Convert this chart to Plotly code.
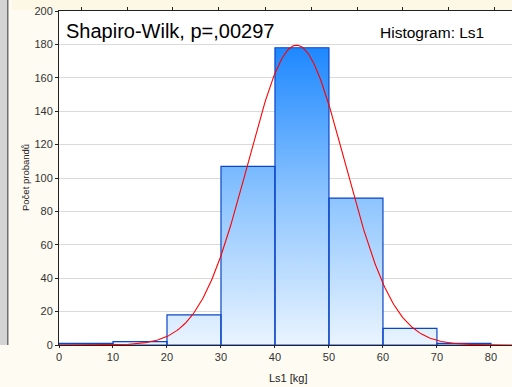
import plotly.graph_objects as go
import numpy as np

# ---- data ----
bin_edges = [0, 10, 20, 30, 40, 50, 60, 70, 80]
counts = [1, 2, 18, 107, 178, 88, 10, 1]
fit_mean = 44.0
fit_sd = 9.0
x_ticks = [0, 10, 20, 30, 40, 50, 60, 70, 80]
y_ticks = [0, 20, 40, 60, 80, 100, 120, 140, 160, 180, 200]
top_ticks = [4.1, 12.6, 21.1, 29.6, 38.2, 46.7, 55.2, 63.7, 72.2, 80.7]
title_text = "Shapiro-Wilk, p=,00297"
hist_text = "Histogram: Ls1"
x_title = "Ls1 [kg]"
y_title = "Počet probandů"

W, H = 512, 387
L, R, T, B = 59, 0, 11, 42
x_max = 83.9
FONT = "Liberation Sans, Arial, sans-serif"

pw = W - L - R
ph = H - T - B
def px(xp):
    return (xp - L) / pw
def py(yp):
    return (H - B - yp) / ph

# bar polygons built from bin data
bx, by = [], []
for i, c in enumerate(counts):
    l, r = bin_edges[i], bin_edges[i + 1]
    bx += [l, l, r, r, l, None]
    by += [0, c, c, 0, 0, None]

n_total = sum(counts)
bw = bin_edges[1] - bin_edges[0]
xc = np.linspace(0, x_max, 400)
yc = n_total * bw / (fit_sd * np.sqrt(2 * np.pi)) * np.exp(-0.5 * ((xc - fit_mean) / fit_sd) ** 2)

fig = go.Figure()
fig.add_trace(go.Scatter(
    x=bx, y=by, mode="lines", fill="toself",
    line=dict(color="#0B45C8", width=1.2),
    fillgradient=dict(type="vertical",
                      colorscale=[[0, "#EAF4FF"], [0.5, "#8CC4FF"], [1, "#1E88FF"]],
                      start=0, stop=max(counts)),
    hoverinfo="skip", showlegend=False))
fig.add_trace(go.Scatter(
    x=xc, y=yc, mode="lines", line=dict(color="#FF0000", width=1.1),
    hoverinfo="skip", showlegend=False))
# invisible trace for top axis
fig.add_trace(go.Scatter(x=[0], y=[0], xaxis="x2", mode="markers",
                         marker=dict(opacity=0), hoverinfo="skip", showlegend=False))

fig.update_layout(
    width=W, height=H,
    margin=dict(l=L, r=R, t=T, b=B, pad=0),
    paper_bgcolor="#FEFBF2", plot_bgcolor="#FFFFFF",
    font=dict(family=FONT, size=11, color="#222222"),
    xaxis=dict(range=[0, x_max], tickvals=x_ticks, showgrid=False, zeroline=False,
               showline=True, linecolor="#222222", linewidth=1,
               ticks="outside", ticklen=2, tickcolor="#222222",
               tickfont=dict(size=11, color="#333333")),
    xaxis2=dict(range=[0, x_max], overlaying="x", side="top", tickvals=top_ticks,
                showticklabels=False, showgrid=False, zeroline=False,
                showline=True, linecolor="#222222", linewidth=1,
                ticks="outside", ticklen=3, tickcolor="#222222"),
    yaxis=dict(range=[0, 200], tickvals=y_ticks, showgrid=True, gridcolor="#DADADA",
               gridwidth=1, zeroline=False, showline=True, linecolor="#222222",
               linewidth=1, ticks="outside", ticklen=3, tickcolor="#222222",
               tickfont=dict(size=11, color="#333333")),
    shapes=[
        dict(type="rect", xref="paper", yref="paper", layer="below",
             x0=px(12), x1=px(W), y0=py(10), y1=py(0),
             fillcolor="#FDF7E6", line=dict(width=0)),
        dict(type="rect", xref="paper", yref="paper", layer="below",
             x0=px(0), x1=px(7), y0=py(345), y1=py(0),
             fillcolor="#D4D4D4", line=dict(width=0)),
        dict(type="rect", xref="paper", yref="paper", layer="below",
             x0=px(7), x1=px(8.5), y0=py(345), y1=py(0),
             fillcolor="#707070", line=dict(width=0)),
    ],
    annotations=[
        dict(text=title_text, xref="paper", yref="paper", x=px(64), y=py(31),
             xanchor="left", yanchor="middle", showarrow=False,
             font=dict(size=20, color="#000000", family=FONT)),
        dict(text=hist_text, xref="paper", yref="paper", x=px(486), y=py(32.5),
             xanchor="right", yanchor="middle", showarrow=False,
             font=dict(size=15.5, color="#000000", family=FONT)),
        dict(text=x_title, xref="paper", yref="paper", x=px(288), y=py(378),
             xanchor="center", yanchor="middle", showarrow=False,
             font=dict(size=11, color="#222222", family=FONT)),
        dict(text=y_title, xref="paper", yref="paper", x=px(25), y=py(178),
             xanchor="center", yanchor="middle", showarrow=False, textangle=-90,
             font=dict(size=9.5, color="#222222", family=FONT)),
    ],
)

fig.write_html("out.html")
